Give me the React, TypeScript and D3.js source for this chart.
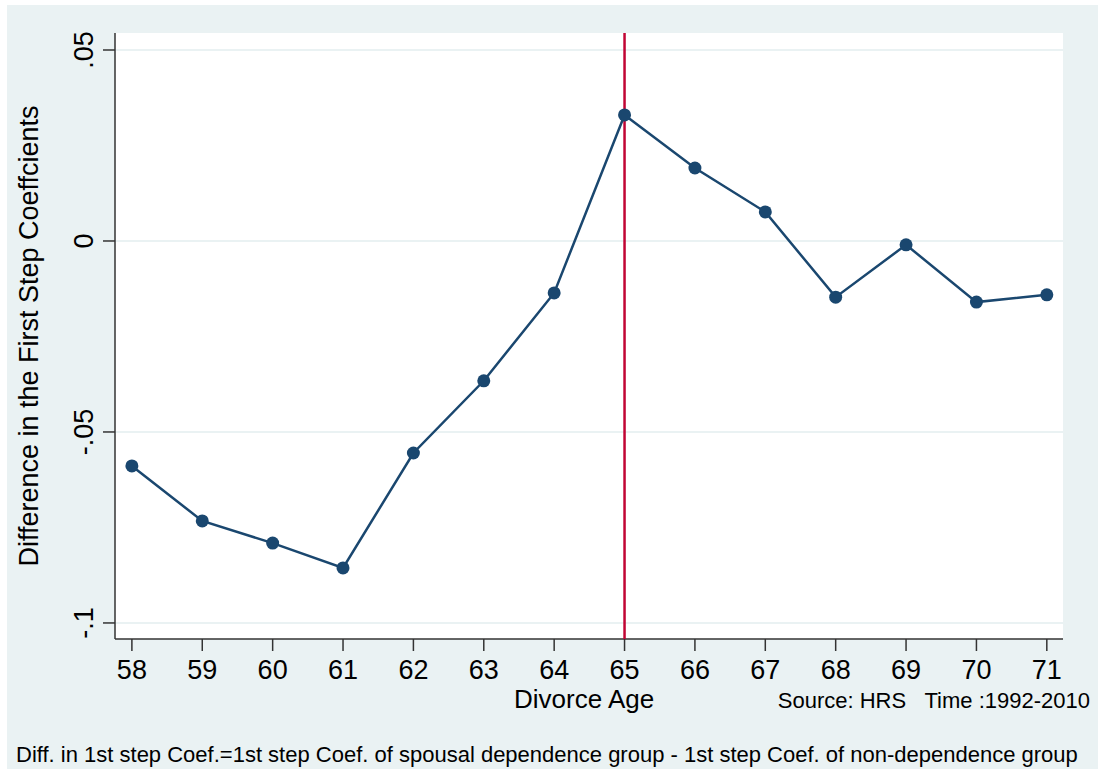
import React from 'react';
import * as d3 from 'd3';

// Divorce age vs difference in first-step coefficients
const ages = [58, 59, 60, 61, 62, 63, 64, 65, 66, 67, 68, 69, 70, 71];
const diffs = [-0.0589, -0.0733, -0.0791, -0.0856, -0.0555, -0.0366, -0.0136, 0.033, 0.0191, 0.0076, -0.0147, -0.001, -0.016, -0.0141];
const yTicks = [0.05, 0, -0.05, -0.1];
const yTickLabels = ['.05', '0', '-.05', '-.1'];
const cutoffAge = 65;

const App = () => {
  const width = 1098;
  const height = 769;
  const margin = { top: 33, right: 35, bottom: 130, left: 115 };

  const x = d3
    .scaleLinear()
    .domain([57.76, 71.23])
    .range([margin.left, width - margin.right]);

  const y = d3
    .scaleLinear()
    .domain([-0.1042, 0.05445])
    .range([height - margin.bottom, margin.top]);

  const line = d3
    .line<number>()
    .x((_, i) => x(ages[i]))
    .y((d) => y(d));

  const font = 'Liberation Sans, Arial, sans-serif';
  const navy = '#1a476f';
  const bottom = height - margin.bottom;

  return (
    <svg
      width={width}
      height={height}
      style={{ position: 'absolute', left: 0, top: 0 }}
      fontFamily={font}
    >
      <rect x={0} y={0} width={width} height={height} fill="#ffffff" />
      <rect x={7} y={5} width={width - 7} height={height - 5} fill="#eaf2f3" />
      {/* Plot area */}
      <rect
        x={margin.left}
        y={margin.top}
        width={width - margin.left - margin.right}
        height={bottom - margin.top}
        fill="#ffffff"
      />
      {/* Grid lines */}
      {yTicks.map((t) => (
        <line
          key={'g' + t}
          x1={margin.left}
          x2={width - margin.right}
          y1={y(t)}
          y2={y(t)}
          stroke="#eaf2f3"
          strokeWidth={2}
        />
      ))}
      {/* Y axis */}
      <line x1={margin.left} x2={margin.left} y1={margin.top} y2={bottom} stroke="#333" strokeWidth={1.5} />
      {yTicks.map((t, i) => (
        <g key={'y' + t}>
          <line x1={margin.left - 12} x2={margin.left} y1={y(t)} y2={y(t)} stroke="#333" strokeWidth={1.5} />
          <text
            transform={`translate(${margin.left - 22},${y(t)}) rotate(-90)`}
            textAnchor="middle"
            fontSize={27}
            fill="#000"
          >
            {yTickLabels[i]}
          </text>
        </g>
      ))}
      {/* X axis */}
      <line x1={margin.left} x2={width - margin.right} y1={bottom} y2={bottom} stroke="#333" strokeWidth={1.5} />
      {ages.map((a) => (
        <g key={'x' + a}>
          <line x1={x(a)} x2={x(a)} y1={bottom} y2={bottom + 12} stroke="#333" strokeWidth={1.5} />
          <text x={x(a)} y={bottom + 40} textAnchor="middle" fontSize={27} fill="#000">
            {a}
          </text>
        </g>
      ))}
      {/* Cutoff line */}
      <line
        x1={x(cutoffAge)}
        x2={x(cutoffAge)}
        y1={margin.top}
        y2={bottom}
        stroke="#c10534"
        strokeWidth={2.5}
      />
      {/* Series */}
      <path d={line(diffs) || ''} fill="none" stroke={navy} strokeWidth={2.5} />
      {diffs.map((d, i) => (
        <circle key={'p' + i} cx={x(ages[i])} cy={y(d)} r={6.5} fill={navy} />
      ))}
      {/* Titles */}
      <text
        transform={`translate(38,${(margin.top + bottom) / 2}) rotate(-90)`}
        textAnchor="middle"
        fontSize={27}
        fill="#000"
      >
        Difference in the First Step Coeffcients
      </text>
      <text x={514} y={708} fontSize={26} fill="#000">
        Divorce Age
      </text>
      <text x={1090} y={708} textAnchor="end" fontSize={22} fill="#000">
        Source: HRS{'\u00a0\u00a0\u00a0'}Time :1992-2010
      </text>
      <text x={16} y={762} fontSize={22} fill="#000">
        Diff. in 1st step Coef.=1st step Coef. of spousal dependence group - 1st step Coef. of non-dependence group
      </text>
    </svg>
  );
};

export default App;
